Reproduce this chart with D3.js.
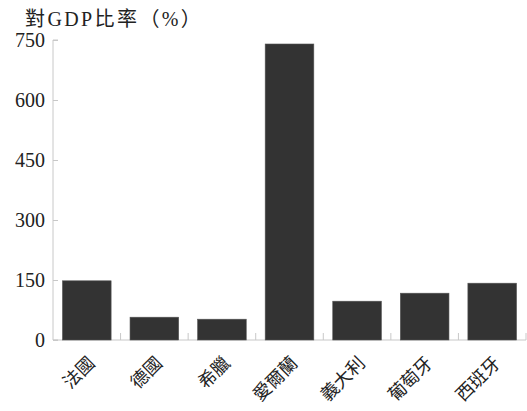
<!DOCTYPE html>
<html><head><meta charset="utf-8">
<script src="https://cdn.jsdelivr.net/npm/d3@7"></script>
<style>body{margin:0;background:#fff}svg{display:block}</style>
</head><body>
<svg id="c" width="527" height="411"></svg>
<script>
const categories = ["法國","德國","希臘","愛爾蘭","義大利","葡萄牙","西班牙"];
const values = [148, 57, 52, 740, 97, 117, 142];
const yTicks = [0, 150, 300, 450, 600, 750];
const title = "對GDP比率（%）";

(function () {
const svg = d3.select("#c");
const mLeft = 53, mRight = 526, mTop = 40, mBottom = 340;
const x = d3.scaleBand().domain(categories).range([mLeft, mRight]).paddingInner(0.28).paddingOuter(0.14);
const y = d3.scaleLinear().domain([0, 750]).range([mBottom, mTop]);
const axisColor = "#c8c8c8";
const serif = "'Liberation Serif','DejaVu Serif',serif";
const cjk = "'Noto Sans CJK TC','Noto Sans CJK SC',sans-serif";

// title
svg.append("text").attr("x", 25).attr("y", 26)
  .attr("font-family", serif + "," + cjk).attr("font-size", 20).attr("fill", "#222")
  .attr("letter-spacing", 2.4)
  .text(title);

// y axis
const yAxis = d3.axisRight(y).tickValues(yTicks).tickSize(5).tickFormat("");
const gy = svg.append("g").attr("transform", `translate(${mLeft},0)`).call(yAxis);
gy.select(".domain").attr("stroke", axisColor).attr("d", `M5,${mTop}H0V${mBottom}H5`);
gy.selectAll(".tick line").attr("stroke", axisColor);
svg.append("g").selectAll("text").data(yTicks).join("text")
  .attr("x", 45).attr("y", d => y(d)).attr("dy", "0.35em")
  .attr("text-anchor", "end").attr("font-family", serif).attr("font-size", 20).attr("fill", "#222")
  .text(d => d);

// x axis
svg.append("line").attr("x1", mLeft).attr("x2", mRight).attr("y1", mBottom).attr("y2", mBottom).attr("stroke", axisColor);
const bounds = d3.range(1, categories.length + 1).map(i => mLeft + i * x.step());
svg.append("g").selectAll("line").data(bounds).join("line")
  .attr("x1", d => d).attr("x2", d => d).attr("y1", mBottom).attr("y2", mBottom - 7).attr("stroke", axisColor);

// bars
svg.append("g").selectAll("rect").data(values).join("rect")
  .attr("x", (d, i) => x(categories[i])).attr("width", x.bandwidth())
  .attr("y", d => y(d)).attr("height", d => y(0) - y(d))
  .attr("fill", "#333333").attr("stroke", "#555").attr("stroke-width", 0.6);

// x labels
svg.append("g").selectAll("text").data(categories).join("text")
  .attr("transform", d => `translate(${x(d) + x.bandwidth() / 2 - 1},${mBottom + 14}) rotate(-45)`)
  .attr("text-anchor", "end").attr("font-family", cjk).attr("font-size", 18).attr("fill", "#222")
  .attr("dy", "0.8em")
  .text(d => d);
})();
</script>
</body></html>
